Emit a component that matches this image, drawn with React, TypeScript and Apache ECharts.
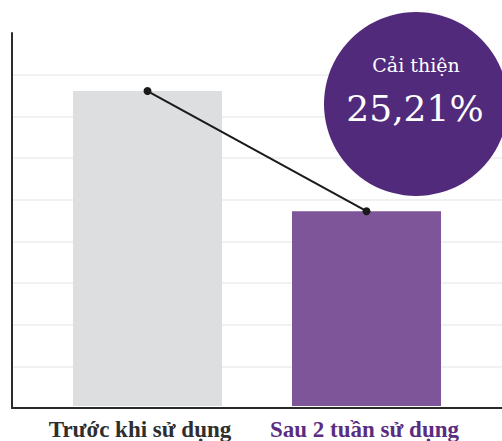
import React, { useEffect, useRef } from "react";
import * as echarts from "echarts";

const categories = ["Trước khi sử dụng", "Sau 2 tuần sử dụng"];
const values = [7.6, 4.7];
const barColors = ["#dcdedf", "#7e5598"];
const labelColors = ["#2e2e2e", "#5a2d82"];
const labelPads = [[0, 15, 0, 0], [0, 4, 0, 0]];
const yTicks = [0, 1, 2, 3, 4, 5, 6, 7, 8, 9];
const badgeTitle = "Cải thiện";
const badgeValue = "25,21%";

export default function App() {
  const ref = useRef<HTMLDivElement>(null);
  useEffect(() => {
    if (!ref.current) return;
    const chart = echarts.init(ref.current, null, { renderer: "svg" });
    const yMin = yTicks[0];
    const yMax = yTicks[yTicks.length - 1];
    chart.setOption({
      animation: false,
      backgroundColor: "#ffffff",
      grid: [
        { left: 12, right: 0, top: 33, bottom: 33 },
        { left: 38, right: 26, top: 33, bottom: 33 },
      ],
      xAxis: [
        {
          gridIndex: 0,
          type: "value",
          min: 0,
          max: 1,
          axisLine: { show: true, lineStyle: { color: "#2b2b2b", width: 2 } },
          axisTick: { show: false },
          axisLabel: { show: false },
          splitLine: { show: false },
        },
        {
          gridIndex: 1,
          type: "category",
          data: categories.map((c, i) => ({
            value: c,
            textStyle: { color: labelColors[i], padding: labelPads[i] },
          })),
          axisLine: { show: false },
          axisTick: { show: false },
          axisLabel: {
            interval: 0,
            margin: 12,
            fontFamily: "Liberation Serif",
            fontWeight: "bold",
            fontSize: 23,
          },
          splitLine: { show: false },
        },
      ],
      yAxis: [
        {
          gridIndex: 0,
          type: "value",
          min: yMin,
          max: yMax,
          interval: 1,
          axisLine: { show: true, lineStyle: { color: "#2b2b2b", width: 2 } },
          axisTick: { show: false },
          axisLabel: { show: false },
          splitLine: {
            show: true,
            showMaxLine: false,
            lineStyle: { color: "#ececec", width: 1.5 },
          },
        },
        {
          gridIndex: 1,
          type: "value",
          min: yMin,
          max: yMax,
          interval: 1,
          show: false,
          splitLine: { show: false },
        },
      ],
      series: [
        {
          type: "bar",
          xAxisIndex: 1,
          yAxisIndex: 1,
          barWidth: 149,
          data: values.map((v, i) => ({ value: v, itemStyle: { color: barColors[i] } })),
          z: 2,
        },
        {
          type: "line",
          xAxisIndex: 1,
          yAxisIndex: 1,
          data: values,
          symbol: "circle",
          symbolSize: 8,
          lineStyle: { color: "#1a1a1a", width: 2 },
          itemStyle: { color: "#1a1a1a" },
          z: 3,
        },
      ],
      graphic: [
        {
          type: "circle",
          shape: { cx: 416, cy: 104, r: 92 },
          style: { fill: "#512a7b" },
          z: 10,
        },
        {
          type: "text",
          x: 416,
          y: 65,
          style: {
            text: badgeTitle,
            fill: "#ffffff",
            font: "500 19px 'DejaVu Serif'",
            textAlign: "center",
            textVerticalAlign: "middle",
          },
          z: 11,
        },
        {
          type: "text",
          x: 415,
          y: 108,
          style: {
            text: badgeValue,
            fill: "#ffffff",
            font: "36px 'DejaVu Serif'",
            textAlign: "center",
            textVerticalAlign: "middle",
          },
          z: 11,
        },
      ],
    });
    return () => chart.dispose();
  }, []);
  return <div ref={ref} style={{ width: 502, height: 441, position: "absolute", left: 0, top: 0 }} />;
}
